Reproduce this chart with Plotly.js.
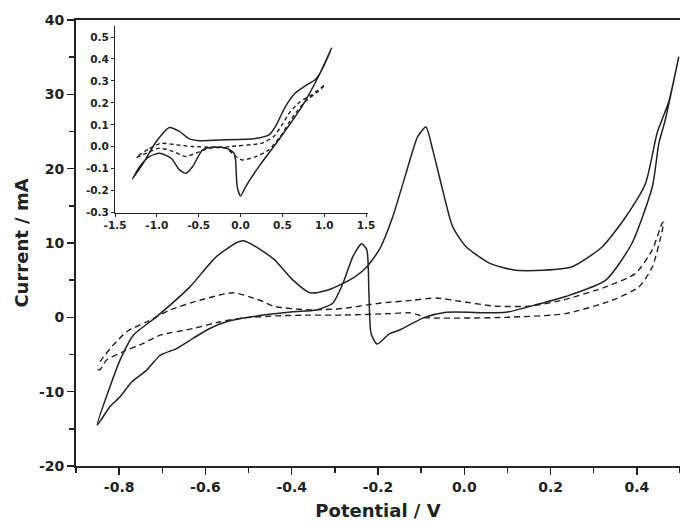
<!DOCTYPE html>
<html>
<head>
<meta charset="utf-8">
<script src="https://cdn.plot.ly/plotly-3.0.1.min.js"></script>
<style>html,body{margin:0;padding:0;background:#fff;}#chart{width:680px;height:521px;}</style>
</head>
<body>
<div id="chart"></div>
<script>
// Main plot, solid cycle (potential V, current mA)
const solidX = [-0.851,-0.821,-0.798,-0.771,-0.736,-0.705,-0.667,-0.628,-0.590,-0.551,-0.513,-0.451,-0.397,-0.343,-0.305,-0.281,-0.258,-0.238,-0.226,-0.221,-0.216,-0.202,-0.173,-0.150,-0.096,-0.042,0.096,0.173,0.235,0.328,0.389,0.436,0.451,0.466,0.497,
  0.474,0.447,0.420,0.374,0.320,0.250,0.166,0.112,0.058,0.004,-0.027,-0.050,-0.073,-0.089,-0.108,-0.135,-0.166,-0.197,-0.229,-0.266,-0.320,-0.358,-0.397,-0.443,-0.514,-0.574,-0.636,-0.713,-0.767,-0.798,-0.821,-0.851];
const solidY = [-14.5,-12.0,-10.7,-8.7,-7.1,-5.1,-4.2,-2.8,-1.5,-0.6,-0.1,0.4,0.75,1.0,1.9,4.6,8.2,9.9,9.1,3.2,-2.2,-3.6,-2.2,-1.7,-0.1,0.67,0.67,1.8,2.8,5.0,10.0,17.6,23.4,26.6,35.0,
  29.0,24.8,18.0,13.5,9.5,6.8,6.3,6.4,7.3,9.5,12.2,17.1,22.5,25.6,24.3,19.4,13.5,9.1,6.6,5.0,3.6,3.3,5.0,7.9,10.3,8.2,4.1,0.1,-2.4,-5.75,-9.3,-14.5];
// Main plot, dashed cycle
const dashX = [-0.850,-0.844,-0.829,-0.790,-0.744,-0.705,-0.628,-0.566,-0.513,-0.436,-0.358,-0.281,-0.173,-0.125,-0.105,-0.096,0.096,0.235,0.343,0.405,0.436,0.459,0.462,
  0.459,0.436,0.397,0.328,0.227,0.150,0.073,-0.004,-0.065,-0.119,-0.197,-0.281,-0.358,-0.443,-0.474,-0.536,-0.613,-0.682,-0.736,-0.782,-0.813,-0.836,-0.850];
const dashY = [-7.1,-7.0,-5.75,-4.6,-3.5,-2.4,-1.5,-0.6,-0.1,0.2,0.3,0.3,0.5,0.6,0.3,0.0,0.0,0.5,2.3,4.1,6.8,11.7,12.8,
  12.7,9.1,5.9,4.1,2.3,1.5,1.5,2.1,2.6,2.3,1.9,1.2,1.0,1.5,2.3,3.3,2.3,1.0,-0.6,-1.9,-3.7,-5.3,-6.5];
// Inset, solid cycle
const insetSolidX = [-1.291,-1.164,-1.007,-0.849,-0.730,-0.612,-0.493,-0.255,0.059,0.217,0.338,0.417,0.536,0.654,0.792,0.892,0.951,1.010,1.089,
  0.931,0.733,0.457,0.219,0.062,0.000,-0.040,-0.060,-0.079,-0.178,-0.336,-0.454,-0.572,-0.651,-0.730,-0.829,-0.967,-1.086,-1.204,-1.291];
const insetSolidY = [-0.146,-0.075,0.024,0.088,0.070,0.036,0.028,0.031,0.034,0.040,0.054,0.092,0.183,0.245,0.282,0.305,0.336,0.381,0.450,
  0.320,0.183,0.032,-0.090,-0.181,-0.224,-0.181,-0.060,-0.029,-0.005,-0.002,-0.014,-0.090,-0.121,-0.105,-0.052,-0.029,-0.044,-0.090,-0.146];
// Inset, dashed cycle
const insetDashX = [-1.244,-1.086,-0.948,-0.770,-0.572,-0.178,-0.136,0.259,0.397,0.496,0.595,0.714,0.851,1.010,
  0.928,0.773,0.674,0.575,0.477,0.338,0.180,0.021,-0.079,-0.178,-0.375,-0.533,-0.651,-0.809,-0.967,-1.125,-1.244];
const insetDashY = [-0.048,-0.007,0.016,0.009,0.001,-0.002,0.001,0.017,0.047,0.100,0.161,0.206,0.237,0.282,
  0.252,0.206,0.161,0.108,0.047,-0.014,-0.045,-0.060,-0.037,-0.006,-0.006,-0.029,-0.044,-0.021,-0.006,-0.029,-0.048];

const mainTicksX = [-0.8,-0.6,-0.4,-0.2,0.0,0.2,0.4];
const mainTicksY = [-20,-10,0,10,20,30,40];
const insetTicksX = [-1.5,-1.0,-0.5,0.0,0.5,1.0,1.5];
const insetTicksY = [-0.3,-0.2,-0.1,0.0,0.1,0.2,0.3,0.4,0.5];

const ink = '#222';
const fontFam = '"DejaVu Sans", sans-serif';
const bold = s => '<b>' + s + '</b>';

const lineStyle = (w, dash) => ({color: ink, width: w, dash: dash, shape: 'spline', smoothing: 0.6});

const traces = [
  {x: solidX, y: solidY, mode: 'lines', line: lineStyle(1.5, 'solid'), xaxis: 'x', yaxis: 'y', hoverinfo: 'skip'},
  {x: dashX, y: dashY, mode: 'lines', line: lineStyle(1.4, '6px,4px'), xaxis: 'x', yaxis: 'y', hoverinfo: 'skip'},
  {x: insetSolidX, y: insetSolidY, mode: 'lines', line: lineStyle(1.5, 'solid'), xaxis: 'x2', yaxis: 'y2', hoverinfo: 'skip'},
  {x: insetDashX, y: insetDashY, mode: 'lines', line: lineStyle(1.4, '4px,3px'), xaxis: 'x2', yaxis: 'y2', hoverinfo: 'skip'}
];

const layout = {
  width: 680, height: 521,
  margin: {l: 76, r: 0, t: 20, b: 55},
  paper_bgcolor: '#fff', plot_bgcolor: 'rgba(0,0,0,0)',
  showlegend: false,
  font: {family: fontFam, color: ink},
  xaxis: {
    domain: [0, 1], range: [-0.9, 0.5], tickvals: mainTicksX, ticktext: mainTicksX.map(v => bold(v.toFixed(1))),
    ticks: 'outside', ticklen: 7, tickwidth: 1.5, tickcolor: ink,
    minor: {dtick: 0.1, tick0: 0, ticks: 'outside', ticklen: 5, tickwidth: 1.5, tickcolor: ink},
    showline: true, linecolor: ink, linewidth: 2, mirror: true,
    showgrid: false, zeroline: false,
    tickfont: {family: fontFam, size: 14, color: ink, weight: 700},
    title: {text: bold('Potential / V'), font: {family: fontFam, size: 18, color: ink, weight: 700}, standoff: 14}
  },
  yaxis: {
    domain: [0, 1], range: [-20, 40], tickvals: mainTicksY, ticktext: mainTicksY.map(v => bold(String(v))),
    ticks: 'outside', ticklen: 7, tickwidth: 1.5, tickcolor: ink,
    minor: {dtick: 5, tick0: 0, ticks: 'outside', ticklen: 5, tickwidth: 1.5, tickcolor: ink},
    showline: true, linecolor: ink, linewidth: 2, mirror: false,
    showgrid: false, zeroline: false,
    tickfont: {family: fontFam, size: 14, color: ink, weight: 700},
    title: {text: bold('Current / mA'), font: {family: fontFam, size: 18, color: ink, weight: 700}, standoff: 6}
  },
  xaxis2: {
    domain: [0.0646, 0.483], range: [-1.5, 1.52], anchor: 'y2',
    tickvals: insetTicksX, ticktext: insetTicksX.map(v => bold(v.toFixed(1))),
    ticks: 'outside', ticklen: 3, tickwidth: 1, tickcolor: ink,
    showline: true, linecolor: ink, linewidth: 1, mirror: false,
    showgrid: false, zeroline: false,
    tickfont: {family: fontFam, size: 10.5, color: ink, weight: 700}
  },
  yaxis2: {
    domain: [0.568, 0.9865], range: [-0.3, 0.55], anchor: 'x2',
    tickvals: insetTicksY, ticktext: insetTicksY.map(v => bold(v.toFixed(1))),
    ticks: 'outside', ticklen: 3, tickwidth: 1, tickcolor: ink,
    showline: true, linecolor: ink, linewidth: 1, mirror: false,
    showgrid: false, zeroline: false,
    tickfont: {family: fontFam, size: 10.5, color: ink, weight: 700}
  }
};

Plotly.newPlot('chart', traces, layout, {staticPlot: true, displayModeBar: false});
</script>
</body>
</html>
